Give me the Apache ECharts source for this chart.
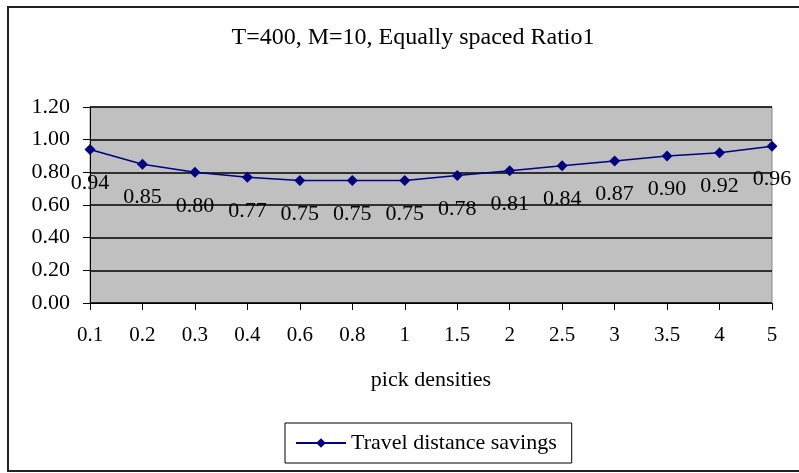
<!DOCTYPE html>
<html>
<head>
<meta charset="utf-8">
<script src="https://cdn.jsdelivr.net/npm/echarts@6/dist/echarts.min.js"></script>
<style>html,body{margin:0;padding:0;background:#fff}#c{width:799px;height:473px}</style>
</head>
<body>
<div id="c"></div>
<script>
var categories = ['0.1','0.2','0.3','0.4','0.6','0.8','1','1.5','2','2.5','3','3.5','4','5'];
var savings = [0.94,0.85,0.80,0.77,0.75,0.75,0.75,0.78,0.81,0.84,0.87,0.90,0.92,0.96];
var yTicks = [0, 0.2, 0.4, 0.6, 0.8, 1.0, 1.2];
var titleText = 'T=400, M=10, Equally spaced Ratio1';
var xName = 'pick densities';
var seriesName = 'Travel distance savings';

var F = '"Liberation Serif","DejaVu Serif",serif';
var chart = echarts.init(document.getElementById('c'));
chart.setOption({
  animation: false,
  backgroundColor: '#fff',
  graphic: [{
    type: 'rect', shape: {x: 8, y: 7, width: 800, height: 464},
    style: {fill: 'none', stroke: '#222', lineWidth: 2}, z: 100
  }],
  title: {
    text: titleText, left: 408, top: 21, textAlign: 'center',
    textStyle: {fontFamily: F, fontSize: 24, fontWeight: 'normal', color: '#000'}
  },
  legend: {
    data: [seriesName],
    left: 285, top: 423,
    itemWidth: 50, itemHeight: 12, itemGap: 6,
    padding: [9, 15, 9, 10],
    borderColor: '#000', borderWidth: 1,
    textStyle: {fontFamily: F, fontSize: 22, color: '#000'}
  },
  grid: {left: 90, right: 27, top: 107, bottom: 170, show: true, backgroundColor: '#c0c0c0', borderColor: '#888', borderWidth: 1},
  xAxis: {
    type: 'category', data: categories, boundaryGap: false,
    name: xName, nameLocation: 'middle', nameGap: 66,
    nameTextStyle: {fontFamily: F, fontSize: 22, color: '#000'},
    axisLine: {lineStyle: {color: '#000', width: 1}},
    axisTick: {show: true, inside: false, length: 7, alignWithLabel: true, lineStyle: {color: '#000'}},
    axisLabel: {fontFamily: F, fontSize: 21, color: '#000', margin: 22, interval: 0},
    splitLine: {show: false}
  },
  yAxis: {
    type: 'value', min: yTicks[0], max: yTicks[yTicks.length-1], interval: 0.2,
    axisLine: {show: true, lineStyle: {color: '#000', width: 1}},
    axisTick: {show: true, inside: false, length: 7, lineStyle: {color: '#000'}},
    axisLabel: {fontFamily: F, fontSize: 22, color: '#000', margin: 20,
      formatter: function(v){ return v.toFixed(2); }},
    splitLine: {show: true, lineStyle: {color: '#000', width: 1.5}}
  },
  series: [{
    name: seriesName, type: 'line', data: savings,
    symbol: 'diamond', symbolSize: 11,
    lineStyle: {color: '#000080', width: 1.5},
    itemStyle: {color: '#000080'},
    label: {show: true, position: 'bottom', distance: 17,
      fontFamily: F, fontSize: 22, color: '#000',
      formatter: function(p){ return p.value.toFixed(2); }}
  }]
});
</script>
</body>
</html>
